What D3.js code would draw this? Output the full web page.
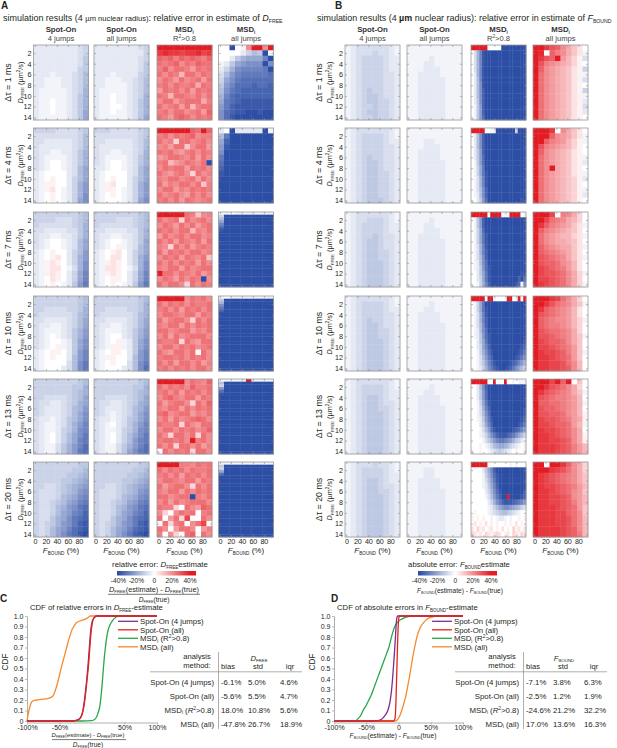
<!DOCTYPE html>
<html lang="en">
<head>
<meta charset="UTF-8">
<title>Spot-On vs MSDi: simulation errors</title>
<style>
  body { margin: 0; background: #fff; }
  svg { font-family: "Liberation Sans", Arial, sans-serif; }
</style>
<script src="https://cdn.jsdelivr.net/npm/d3@7"></script>
</head>
<body>
<script>
// ---------------- data ----------------
var dtaus = ["1", "4", "7", "10", "13", "20"];
var fTicks = [0, 20, 40, 60, 80];
var dTicks = [2, 4, 6, 8, 10, 12, 14];
var fDomain = [-2.5, 97.5];
var dDomain = [0.5, 14.5];
var barTicks = [-0.4, -0.2, 0, 0.2, 0.4];
var barLabels = ["-40%", "-20%", "0", "20%", "40%"];

// heatmap cells, one string per delta-tau; rows = D_FREE (top to bottom, space separated),
// one char per cell = F_BOUND (left to right).
// "." = 0, "A".."P" = -2.5%..-40%, "a".."p" = +2.5%..+40%
var mapsA_spot4 = [
  "BBBBBBBBCD BBBBBBBBCD BBBBBBBBCE BBBBBBBBCE BBBBBBBBDE BBBABBBCDF BBAAABBCDF BBAAABBCDF BAAAAABCDG BAAAAABCEG BAA.AABCEG BAA.AABCEG BAA.AABCEH BAAAAABCEH",
  "DDDDCCCCDE CCCCCCCCDF CCBBBBBCDF CBBBBBBCDF CBBAABBCEG CBAAAABCEG CBA..ABCEG CBA..ABCFH BA....BCFH BA.a..BDFH BAaa..BDGI BAab.ABDGI BA.a.ABDGJ BA.a.ABDHJ",
  "DDDDDDDDEF DDDDCCCDEF DCCCCCCDEG CCBBBBCCEG CBBAABBCEG CBA..ABCFH CBA..ABCFH BA.a..BDFI BA.ab.BDGI BAaba.BDGJ BAabb.ACGJ BAaba.BDHK BA.ba.BDHK BA.a.ABEIL",
  "DDDDDDDDEF DDDDDDDDEF DDCCCCDDEG DCCCCCCDFG CCBBBBCDFH CBBAABCDFH CBAAABCEGI CBA.ABCEGI CBA..ABEHJ CBA.aABEHJ BA.aa.BEIK BA.a..BFIK BA....CFJL BA...BCFJL",
  "DDDDDDDDEF DDDDDDDEEG DDDDDDDEFG DDCCCCDEFH DCCBBCDEGH DCBBBCDFGI DCBBBCDFHJ CBBABCEFHJ CBAABCEGIK CBAABDEGJK CBA.BDFHJL CBA.BDFHKL CBAACEGIKM CBAACEGILM",
  "DDDDDDDDEE DDDDDDDEEF DDDDDDEEFG DDDDDEEFGH DDCCDEFGHI DCCCDEFGIJ DCCCDFGHJK DCCDEFHIKL DCCDFGIJLM DCCDFHIKLN DCCEGHJLMN DCDEGIJLNO DCDFHIKMNO DCDFHJLMOP"
];
var mapsA_spotAll = [
  "BBBBBBBBCD BBBBBBBBBD BBBBBBBBCD BBBBBBBBCE BBBBBBBBCE BBBABBBBDE BBAAABBCDF BBAAAABCDF BAAAAABCDF BAA.AABCDG BAA.AABCEG BAA..ABCEG BAA.AABCEG BAAAAABCEH",
  "DDDCCCCCDE CCCCCCCCDE CCBBBBBCDF CBBBBBBCDF CBBAABBCDG CBAAAABCEG CBA..ABCEG BBA..ABCFH BA....BCFH BA.a..BDFH BAab..BDGI BAaa.ABDGI BA.a.ABDGI BA...ABDHJ",
  "DDDDDDDDEF DDDDCCCDEF DCCCCCCDEF CCBBBBCCEG CBBAABBCEG CBA..ABCEH CBA.aABCFH BA.ab.BDFH BA.bb.BDGI BAaba.BDGJ BAbba.ACGJ BAaba.BDHK BA.aa.BDHK BA.a.ABEIL",
  "DDDDDDDDEF DDDDDDDDEG DDCCCCDDEG DCCCCCCDFG CCBBBBCDFH CBBAABCDFH CBAAABCEGI CBA..BCEGI CBA.aABEHJ CBAaaABEHJ BA.aa.BEIK BAaa..BFIK BA.a..CFJL BA...BCFJM",
  "DDDDDDDDEF DDDDDDDEEG DDDDDDDEFG DDCCCCDEFH DCCBBCDEGH DCBBBCDFGI DCBABCDFHJ CBBABCEFHJ CBA.BCEGIK CBAABDEGJK CBA.BDFHJL CBA.BDFIKL CBAACEGIKM CBAACEHJLM",
  "DDDDDDDDEE DDDDDDDEEF DDDDDDEEFG DDDDDEEFGH DDCCDEFGHI DCCCDEFGIJ DCCCDFGHJK DCCDEFHIKL DCCDFGIJLM DCCDFHIKLN DCCEGHJLMN DCDEGIJLNO DCDFHIKMNO DCDFHJLNOP"
];
var mapsA_msdR2 = [
  "pppppppppp nonnmnnomn kjkikjkjik jijkhjikjj ikhjjigjij jhjiejjhji hjigjhijgj ijhjiijfji gjijhjgjij jiejjihjhj hjjgijjjfi jhijgjeijj ijhjjhijgk jigjkjhjij",
  "ppppppkjpk ijhjijkhii jhicjjhijh higjjdhjjg jijhgijhji ghjjihjgjh ijeghjihjP hjijjgjijh jhgijhcjhi ihjjhijgjh jgihjjhjdi hjjgihjiji jhijhgjhjh ijhjgjihij",
  "pppppjidhi jhijcjhijh hjigjhjgij jijhjjeihj gjhijhjjhi jhjgjihjgj ihcjhjgiji jgjijhjjhi hjijgjihjd jhjhjijgjh ihjjgjhijj pjjhjihjgi hjigjhjiPh jhjjhcjhji",
  "ppppphjijh jhjijhjiij ijhjgjijhj hjjihjjgji jgijjhcjhj ihjjgjhjij jjhijjgihj hjgjhijjjh jiijcjhgjj hjjhjijhij jhgjjhj.jh ijjijhjijh jhjgjjhjgi ijhjijhjjh",
  "ppppphjihk jhjijhkiij ijhjgjijhj hjkihjjgji jgijjhcjhk ihjjgjhjij jkhijjgihj hjgjhijkjh jiijcjhgjj hjjhjijhik jhcjjhjcjh ijjijhpijh jhjcjjhjgi .jhjijcjjh",
  "ppppiihjij jhjijhjiij ijhjgjijhj hjjihjjgji jgijjhcjhj ihjjgjhjij jjhijjPihj hjgjhijjjh jiic.jhgkj hc.hjij.ij j.gjcm..jh .jcij.hjm. jh.gjjh.gi i.hc.jk.jh"
];
var mapsA_msdAll = [
  "..P.ahpphp ....BDFEPA ..BEGHHHKP ABEHIJJJPJ BDGJKKKKLP CFIKLLLLLM DHJLMMMMMM EIKMMMNMMN FJLMNNNNNN GKMNNNNNNN HLMNOOOOOO ILNOOOOOOO JMNOOPPOPP JMOPPPPPPP",
  "B.PBBBBBPA FLPPPPPPPP HNPPPPPPPP IOPPPPPPPP JPPPPPPPPP LPPPPPPPPP MPPPPPPPPP NPPPPPPPPP OPPPPPPPPP PPPPPPPPPP PPPPPPPPPP PPPPPPPPPP PPPPPPPPPP PPPPPPPPPP",
  "AA.AAAAAAA DPPPPPPPPP FPPPPPPPPP HPPPPPPPPP KPPPPPPPPP MPPPPPPPPP OPPPPPPPPP PPPPPPPPPP PPPPPPPPPP PPPPPPPPPP PPPPPPPPPP PPPPPPPPPP PPPPPPPPPP PPPPPPPPPP PPPPPPPPPP PPPPPPPPPP PPPPPPPPPP PPPPPPPPPP PPPPPPPPPP PPPPPPPPPP PPPPPPPPPP PPPPPPPPPP PPPPPPPPPP PPPPPPPPPP PPPPPPPPPP PPPPPPPPPP PPPPPPPPPP PPPPPPPPPP",
  "A.AAAAAAAA EPPPPPPPPP GPPPPPPPPP JPPPPPPPPP LPPPPPPPPP NPPPPPPPPP PPPPPPPPPP PPPPPPPPPP PPPPPPPPPP PPPPPPPPPP PPPPPPPPPP PPPPPPPPPP PPPPPPPPPP PPPPPPPPPP PPPPPPPPPP PPPPPPPPPP PPPPPPPPPP PPPPPPPPPP PPPPPPPPPP PPPPPPPPPP PPPPPPPPPP PPPPPPPPPP PPPPPPPPPP PPPPPPPPPP PPPPPPPPPP PPPPPPPPPP PPPPPPPPPP PPPPPPPPPP",
  "AAAAApAAAA FPPPPPPPPP DPPPPPPPPP IPPPPPPPPP MPPPPPPPPP OPPPPPPPPP PPPPPPPPPP PPPPPPPPPP PPPPPPPPPP PPPPPPPPPP PPPPPPPPPP PPPPPPPPPP PPPPPPPPPP PPPPPPPPPP PPPPPPPPPP PPPPPPPPPP PPPPPPPPPP PPPPPPPPPP PPPPPPPPPP PPPPPPPPPP PPPPPPPPPP PPPPPPPPPP PPPPPPPPPP PPPPPPPPPP PPPPPPPPPP PPPPPPPPPP PPPPPPPPPP PPPPPPPPPP",
  "AAAAAAAAAA EPPPPPPPPP DPPPPPPPPP HPPPPPPPPP MPPPPPPPPP PPPPPPPPPP PPPPPPPPPP PPPPPPPPPP PPPPPPPPPP PPPPPPPPPP PPPPPPPPPP PPPPPPPPPP PPPPPPPPPP PPPPPPPPPP PPPPPPPPPP PPPPPPPPPP PPPPPPPPPP PPPPPPPPPP PPPPPPPPPP PPPPPPPPPP PPPPPPPPPP PPPPPPPPPP PPPPPPPPPP PPPPPPPPPP PPPPPPPPPP PPPPPPPPPP PPPPPPPPPP PPPPPPPPPP"
];
var mapsB_spot4 = [
  "ABCCCCCCBA ABCCCDCCBA ABCDDDDCBB ABCDDDDCBB ABCDDDDCBB ABCDDDDCCB ABCDDDDCCB ABCDDDDCCB ABCDEDDCCB ABCDEEDCCB ABCDEEDDCB ABCDDEDDCB ABCDEEDDCB ABCDDEDDCB",
  "ABCCCCCCBA ABCDDDDCBA ABCDDDDCBB ABCDDDDCCB ABCDDDDCCB ABCDEDDCCB ABCDEEDCCB ABCDEEDCCB ABCDEEDDCB ABCDEEDDCB ABCDEEDDCB ABCDEEDDCB ABCDEEDDCB ABCDEEEDCB",
  "ABCCCCCCBA ABCCDDDCBA ABCDDDDCBB ABCDDDDCBB ABCDDEDCCB ABCDEEDCCB ABCDEEDCCB ABCDEEDDCB ABCDEEDDCB ABCDEEEDCB ABCDEEEDCB ABCDEEEDCB ABCDEEEDCB ABCDEEEDCB",
  "ABCCCCCCBA ABCDDDDCBA ABCDDDDCBB ABCDDDDCCB ABCDEDDCCB ABCDEEDCCB ABCDEEDDCB ABCDEEDDCB ABCDEEEDCB ABCDEEEDCB ABCDEEEDCB ABCDEEEDCB ABCDEEEDCB ABCDEEEDCB",
  "ABCCCCCCBA ABCDDDDCBA ABCDDDDCBB ABCDEEDCBB ABCDEEDCCB ABCDEEDDCB ABCDEEEDCB ABCDEEEDCB ABCDEEEDCB ABCDEEEDCB ABCDEEEDCB ABCDEEEDCB ABCDEEEDCB ABCDEEEDCB",
  "ABCCCDCCBA ABCDDDDCBA ABCDDDDCBB ABCDEEDCBB ABCDEEDCCB ABCDEEDDCB ABCDEEEDCB ABCDEEEDCB ABCDEEEDCB ABCDEEEDCB ABCDEEEDCB ABCDEEEDCB ABCDEEEDCB ABCDEEEDCB"
];
var mapsB_spotAll = [
  "AAAAAAAAAA AAAAAAAAAA AAAABAAAAA AAABBAAAAA AAABBBAAAA AABBBBAAAA AABBBBBAAA AABBBBBAAA AABBBBBAAA AABBBBBAAA AABBBBBAAA AABBBBBAAA AABBBBBAAA AABBBBBAAA",
  "AAAAAAAAAA AAAAAAAAAA AAABBAAAAA AAABBBAAAA AABBBBAAAA AABBBBAAAA AABBBBBAAA AABBBBBAAA AABBBBBAAA AABBBBBAAA AABBBBBAAA AABBBBBAAA AABBBBBAAA AABBBBBAAA",
  "AAAAAAAAAA AAAABAAAAA AAABBAAAAA AAABBBAAAA AABBBBAAAA AABBBBBAAA AABBBBBAAA AABBBBBAAA AABBBBBAAA AABBBBBAAA AABBBBBAAA AABBBBBAAA AABBBBBAAA AABBBBBAAA",
  "AAAAAAAAAA AAAABAAAAA AAABBAAAAA AABBBBAAAA AABBBBAAAA AABBBBBAAA AABBBBBAAA AABBBBBAAA AABBBBBAAA AABBBBBAAA AABBBBBAAA AABBBBBAAA AABBBBBAAA AABBBBBAAA",
  "AAAAAAAAAA AAAABAAAAA AAABBAAAAA AABBBBAAAA AABBBBAAAA AABBBBBAAA AABBBBBAAA AABBBBBAAA AABBBBBAAA AABBBBBAAA AABBBBBAAA AABBBBBAAA AABBBBBAAA AABBBBBAAA",
  "AAAAAAAAAA AAABBAAAAA AAABBAAAAA AABBBBAAAA AABBBBAAAA AABBBBBAAA AABBBBBAAA AABBBBBAAA AABBBBBAAA AABBBBBAAA AABBBBBAAA AABBBBBAAA AABBBBBAAA AABBBBBAAA"
];
var mapsB_msdR2 = [
  "pppppp.....PPPPPPPPP .CGKOPPPPPPPPPPPPPPP .CGKOPPPPPPPPPPPPPPP .CGKOPPPPPPPPPPPPPPP .CGKOPPPPPPPPPPPPPPP .BGKOPPPPPPPPPPPPPPP .BFKOPPPPPPPPPPPPPPP .BFJOPPPPPPPPPPPPPPP .BFJNPPPPPPPPPPPPPPP .BFJNPPPPPPPPPPPPPPP .BEJNPPPPPPPPPPPPPPP .AEINPPPPPPPPPPPPPPP .AEINPPPPPPPPPPPPPPP .AEIMPPPPPPPPPPPPPPP",
  "ppppp..AAPPPPPPPDPPP .BFJNPPPPPPPPPPPPPPP .BFJNPPPPPPPPPPPPPPP .BFJNPPPPPPPPPPPPPPP .BEINPPPPPPPPPPPPPPP .BEIMPPPPPPPPPPPPPPP .AEIMPPPPPPPPPPPPPPP .ADHLPPPPPPPPPPPPPPP .ADHLOPPPPPPPPPPPPPP .ACGKOPPPPPPPPPPPPPP .ACGKOPPPPPPPPPPPPPP .ACFJNPPPPPPPPPPPPPP .ABFJNPPPPPPPPPPPPPP ..BEIMPPPPPPPPPPPPOP",
  "pppppp.ppppAAApppp.A .AEINPPPPPPPPPPPPPPP .AEINPPPPPPPPPPPPPPP .ADHMPPPPPPPPPPPPPPP .ADHLOPPPPPPPPPPPPPP .ADHLOPPPPPPPPPPPPPP .ACGKOPPPPPPPPPPPPPP .ACGKNPPPPPPPPPPPPPP .ACFJNPPPPPPPPPPPPPP .ABFJMPPPPPPPPPPPPPP .ABEIMOPPPPPPPPPPPPP ..BEHLOPPPPPPPPPPPOP ..BDHLOPPPPPPPPPPNPM ..ADGKNPPPPPPPPPOMAJ",
  "ppppp.ppA....pp.Ap.p .ADHLPPPPPPPPPPPPPPP .ADHLOPPPPPPPPPPPPPP .ACGKOPPPPPPPPPPPPPP .ACGKNPPPPPPPPPPPPPP .ACFJNPPPPPPPPPPPPPP .ABFJMPPPPPPPPPPPPPP .ABEIMOPPPPPPPPPPPPP ..BEHLOPPPPPPPPPPPPO ..BDHKNPPPPPPPPPPPON ..ADGJMOPPPPPPPPPONL ..ACFILNPPPPPPPPONLJ ..ACEHKMOPPPPPONMKIG ..ABDGJLNOPPPONLJHFD",
  "pppppp..p...p..A.AAA ..BFJNPPPPPPPPPPPPPP ..BEIMPPPPPPPPPPPPPP ..BEIMPPPPPPPPPPPPPP ..ADHLOPPPPPPPPPPPPP ..ACGKNPPPPPPPPPPPPP ..ACFJMPPPPPPPPPPPPO ..ABEILOPPPPPPPPPPON ...BDHKNPPPPPPPPPONL ...ACFIMOPPPPPPONMKI ...ABDGJLNOOONMLJHFD ....ACEGIKLLKJIGEDBA ...a.ABDFGHHGFDCBA.a a..a..ABCDEDCBA.a..a",
  "pppppp........a.A... ....BEHKNPPPPPPPPPPP ....ADGJMOPPPPPPPPPP ....ACFILOPPPPPPPPPP ....ABEHKNPPPPPPPPPP .....BDGJMOPPPPPPPPO .....ACFILNPPpPPPPON ......BDGJLNOOONMLKI ......ABDFHIJJIHGFDC .a....ABCDEFFEDCBA.. a.a.a..A.ABBA.A..a.a .b.a.b.a.a..a.a.b.a. b.cab.ab.a.b.a.cab.b cbab.cbabcb.ab.cbacb"
];
var mapsB_msdAll = [
  "ppnlkhfdb. po.kihfdbA pnlkpgecaC plihgfeca. pkhgfedbaD pjhgfedbaA pjhgfedbAC pjhgfedba. pjhgfedbaD pjhgfedbaA pjhgfedbaB pjhgfedbaC pjhgfedbaB pjhgfedba.",
  "pppn.hfdb. pppkhgfdbA ppkihgecaA plihgfeca. pkhgfedba. pjhgfedbaA pjhgfedbaB pjhpfedba. pjhgfedbaA pjhgfedcaB pjhgfedca. pjhgfedcaA pjhgfedcaB pjhgfedca.",
  "pppm.ihfc. ppmjihfec. pnkihgfdbA pkihgfedb. pjhgfeecbA pjhgffedb. pkihgffdbA pkjihgfdb. plkjihfdbA plkkjhgeb. pmlkjigeb. pmllkjhfcA pmmlkjhfc. pnmlkjhfcA",
  "pppnmjhfc. ppnljihfdA pnkjihgeb. plkjihgeb. pkjihhgecA pkjiihgec. plkjjihfc. pllkjihfdA pmlkkjhfd. pmmlkjigd. pnmmlkigdA pnnmlkjgd. pnnmmljhe. pnnmmlkhe.",
  "pppmpkp.d. ppnlkjhfc. pnlkjihfdA plkjiihge. pkkjjihgeA plkkjihge. pllkkjhgea pmllkjigfa pmmlkkjgeA pnmmlkjhf. pnnmlkjhfa pnnmmlkhfa pnnnmlkige pnnnmlkige",
  "pp.ppnkhfc pppnmljhfc pnmlkjihfd pnmlkjihfd pnmmlkjige pnnmlkjhgd pnnmmlkhge pnnmmlkige pnnnmlkjgd pnnnmmkjhd pnnnmmljhe pnnnmmljhe pnnnnmlkhe pnnnnmlkie"
];

// CDF curves: [error in %, cumulative fraction]
var cdfTicks = [0, 0.1, 0.2, 0.3, 0.4, 0.5, 0.6, 0.7, 0.8, 0.9, 1];
var cdfC_spot4 = [[-100,0],[-30,0],[-22,0.01],[-17,0.04],[-14,0.1],[-12,0.18],[-10,0.28],[-8,0.4],[-6.5,0.5],[-5,0.62],[-3.5,0.75],[-2,0.86],[0,0.94],[3,0.98],[7,1],[100,1]];
var cdfC_spotAll = [[-100,0],[-30,0],[-21,0.01],[-16,0.05],[-13,0.12],[-11,0.2],[-9,0.31],[-7,0.43],[-5.5,0.52],[-4,0.64],[-2.5,0.77],[-1,0.87],[1,0.95],[4,0.99],[8,1],[100,1]];
var cdfC_msdR2 = [[-100,0],[-15,0],[0,0.004],[5,0.02],[9,0.07],[12,0.14],[14,0.24],[16,0.38],[17.5,0.5],[19,0.61],[21,0.72],[23,0.81],[25,0.87],[28,0.92],[32,0.96],[37,0.99],[42,1],[100,1]];
var cdfC_msdAll = [[-100,0],[-99,0.04],[-97,0.1],[-95,0.15],[-93,0.18],[-90,0.195],[-85,0.2],[-78,0.205],[-72,0.21],[-67,0.215],[-63,0.225],[-60,0.24],[-57,0.28],[-54,0.34],[-51,0.41],[-48,0.49],[-45,0.56],[-42,0.63],[-39,0.7],[-36,0.77],[-33,0.83],[-30,0.88],[-27,0.91],[-24,0.935],[-20,0.95],[-15,0.96],[-10,0.97],[-6,0.985],[-3,1],[100,1]];
var cdfD_spot4 = [[-100,0],[-35,0],[-28,0.01],[-24,0.03],[-20,0.06],[-16,0.11],[-13,0.19],[-11,0.28],[-9.5,0.38],[-8,0.5],[-6.5,0.63],[-5,0.77],[-4,0.88],[-3,0.96],[-1.5,1],[100,1]];
var cdfD_spotAll = [[-100,0],[-8,0],[-5.5,0.02],[-4.5,0.1],[-3.5,0.28],[-2.5,0.5],[-1.5,0.72],[-0.5,0.9],[0.5,0.98],[2,1],[100,1]];
var cdfD_msdR2 = [[-100,0],[-68,0],[-63,0.02],[-58,0.06],[-55,0.1],[-50,0.15],[-46,0.2],[-42,0.25],[-39,0.3],[-36,0.35],[-33,0.4],[-30,0.45],[-27,0.5],[-24,0.55],[-21,0.6],[-18,0.65],[-15,0.7],[-12.5,0.76],[-10,0.82],[-7,0.88],[-4,0.92],[0,0.95],[5,0.97],[12,0.99],[22,1],[100,1]];
var cdfD_msdAll = [[-100,0],[-5,0],[-2,0.01],[2,0.05],[5,0.1],[8,0.16],[11,0.23],[14,0.32],[17,0.42],[20,0.53],[23,0.64],[26,0.73],[29,0.81],[33,0.88],[38,0.93],[44,0.97],[52,0.99],[60,1],[100,1]];

var seriesColors = ["#7e2f8e", "#e2231a", "#25a84a", "#f58a2f"];

// table values: bias, std, iqr
var tableC = [["-6.1%", "5.0%", "4.6%"], ["-5.6%", "5.5%", "4.7%"], ["18.0%", "10.8%", "5.6%"], ["-47.8%", "26.7%", "18.9%"]];
var tableD = [["-7.1%", "3.8%", "6.3%"], ["-2.5%", "1.2%", "1.9%"], ["-24.6%", "21.2%", "32.2%"], ["17.0%", "13.6%", "16.3%"]];

// ---------------- layout ----------------
var W = 617, H = 748;
var HW = 55, HH = 75;
var rowTop = [45, 128, 212, 296, 379, 462];
var colXA = [33.5, 94, 157, 218.5];
var colXB = [345, 407, 471, 533];
var INK = "#231f20";

var color = d3.scaleLinear().domain([-0.4, 0, 0.4]).range(["#2d4ea5", "#ffffff", "#e31b23"]).clamp(true);

function level(ch) {
  if (ch === ".") return 0;
  var c = ch.charCodeAt(0);
  return c >= 97 ? (c - 96) * 0.025 : -(c - 64) * 0.025;
}

var svg = d3.select("body").append("svg").attr("width", W).attr("height", H);
var defs = svg.append("defs");

// text with italic / sub / superscript parts; opts.fit squeezes it to a width
function rich(x, y, parts, size, opts) {
  opts = opts || {};
  var t = build(size);
  if (opts.fit) {
    var w = t.node().getComputedTextLength();
    if (w > 0) { t.remove(); t = build(size * opts.fit / w); }
  }
  return t;

  function build(sz) {
    var t = svg.append("text").attr("font-size", sz)
      .attr("text-anchor", opts.anchor || "start").attr("fill", opts.fill || INK);
    if (opts.rotate) t.attr("transform", "translate(" + x + "," + y + ") rotate(-90)");
    else t.attr("x", x).attr("y", y);
    var shift = 0;
    parts.forEach(function(p) {
      var k = p[1] || "";
      var ts = t.append("tspan").text(p[0]);
      var target = 0, fs = sz;
      if (k.indexOf("s") >= 0) { fs = sz * 0.58; target = sz * 0.22; }
      if (k.indexOf("u") >= 0) { fs = sz * 0.62; target = -sz * 0.36; }
      if (k.indexOf("m") >= 0) fs = sz * 0.85;
      if (fs !== sz) ts.attr("font-size", fs);
      if (k.indexOf("i") >= 0) ts.attr("font-style", "italic");
      if (k.indexOf("b") >= 0) ts.attr("font-weight", "bold");
      if (target !== shift) ts.attr("dy", target - shift);
      shift = target;
    });
    return t;
  }
}

function styleAxis(g, size) {
  g.attr("font-family", null).attr("font-size", size);
  g.selectAll(".tick line").attr("stroke", "#8c8c8c").attr("stroke-width", 0.6);
  g.selectAll(".tick text").attr("fill", INK);
}

function drawHeatmap(rows, x0, y0, showY, showX) {
  var g = svg.append("g");
  var yb = d3.scaleBand().domain(d3.range(rows.length)).range([y0, y0 + HH]);
  rows.forEach(function(r, i) {
    var xb = d3.scaleBand().domain(d3.range(r.length)).range([x0, x0 + HW]);
    g.append("g").selectAll("rect")
      .data(r.split(""))
      .join("rect")
      .attr("x", function(d, j) { return xb(j); })
      .attr("y", yb(i))
      .attr("width", xb.bandwidth() + 0.35)
      .attr("height", yb.bandwidth() + 0.35)
      .attr("fill", function(d) { return color(level(d)); });
  });
  g.append("rect").attr("x", x0).attr("y", y0).attr("width", HW).attr("height", HH)
    .attr("fill", "none").attr("stroke", "#9a9a9a").attr("stroke-width", 0.8);

  var fx = d3.scaleLinear().domain(fDomain).range([x0, x0 + HW]);
  var fy = d3.scaleLinear().domain(dDomain).range([y0, y0 + HH]);

  var ax = g.append("g").attr("transform", "translate(0," + (y0 + HH) + ")")
    .call(d3.axisBottom(fx).tickValues(fTicks).tickSize(-2).tickSizeOuter(0).tickPadding(1.5)
      .tickFormat(showX ? d3.format("d") : ""));
  ax.select(".domain").remove();
  styleAxis(ax, 7.2);
  var at = g.append("g").attr("transform", "translate(0," + y0 + ")")
    .call(d3.axisTop(fx).tickValues(fTicks).tickSize(-2).tickSizeOuter(0).tickFormat(""));
  at.select(".domain").remove();
  styleAxis(at, 7);
  var al = g.append("g").attr("transform", "translate(" + x0 + ",0)")
    .call(d3.axisLeft(fy).tickValues(dTicks).tickSize(-2).tickSizeOuter(0).tickPadding(2)
      .tickFormat(showY ? d3.format("d") : ""));
  al.select(".domain").remove();
  styleAxis(al, 7.2);
  var ar = g.append("g").attr("transform", "translate(" + (x0 + HW) + ",0)")
    .call(d3.axisRight(fy).tickValues(dTicks).tickSize(-2).tickSizeOuter(0).tickFormat(""));
  ar.select(".domain").remove();
  styleAxis(ar, 7);
}

function heatPanel(maps, colX, dtX, dlX) {
  maps.forEach(function(set, ci) {
    set.forEach(function(s, ri) {
      drawHeatmap(s.split(" "), colX[ci], rowTop[ri], ci === 0, ri === rowTop.length - 1);
    });
  });
  rowTop.forEach(function(t, ri) {
    var yc = t + HH / 2;
    rich(dtX, yc, [["\u0394\u03c4 = " + dtaus[ri] + " ms"]], 8.8, { anchor: "middle", rotate: true });
    rich(dlX, yc, [["D", "i"], ["FREE", "s"], [" (\u00b5m", ""], ["2", "u"], ["/s)", ""]], 7.3, { anchor: "middle", rotate: true });
  });
  colX.forEach(function(x) {
    rich(x + HW / 2, 553, [["F", "i"], ["BOUND", "s"], [" (%)", ""]], 8, { anchor: "middle" });
  });
}

function headers(colX) {
  var line1 = [[["Spot-On", "b"]], [["Spot-On", "b"]], [["MSD", "b"], ["i", "bs"]], [["MSD", "b"], ["i", "bs"]]];
  var line2 = [[["4 jumps"]], [["all jumps"]], [["R"], ["2", "u"], [">0.8"]], [["all jumps"]]];
  colX.forEach(function(x, i) {
    rich(x + HW / 2, 32, line1[i], 7.8, { anchor: "middle", fill: "#333" });
    rich(x + HW / 2, 41, line2[i], 7.6, { anchor: "middle", fill: "#444" });
  });
}

function colorbar(x0, id, titleParts, titleX, titleW) {
  var bw = 79, by = 571, bh = 4.5;
  var bx = d3.scaleLinear().domain([-0.4, 0.4]).range([x0 + 1.5, x0 + 73]);
  var grad = defs.append("linearGradient").attr("id", id);
  barTicks.forEach(function(v) {
    grad.append("stop").attr("offset", (bx(v) - x0) / bw).attr("stop-color", color(v));
  });
  grad.append("stop").attr("offset", 1).attr("stop-color", color(0.4));
  svg.append("rect").attr("x", x0).attr("y", by).attr("width", bw).attr("height", bh)
    .attr("fill", "url(#" + id + ")");
  svg.append("g").selectAll("text").data(barTicks).join("text")
    .attr("x", function(d) { return bx(d); }).attr("y", 583)
    .attr("text-anchor", "middle").attr("font-size", 6.6).attr("fill", INK)
    .text(function(d, i) { return barLabels[i]; });
  rich(titleX, 567, titleParts, 7.5, { anchor: "middle", fit: titleW });
}

// ---------------- panel A / B ----------------
svg.append("text").attr("x", 1).attr("y", 9).attr("font-size", 10).attr("font-weight", "bold").attr("fill", INK).text("A");
svg.append("text").attr("x", 335).attr("y", 9).attr("font-size", 10).attr("font-weight", "bold").attr("fill", INK).text("B");

rich(3, 21, [["simulation results (4 "], ["\u00b5m nuclear radius)", "m"], [": relative error in estimate of "], ["D", "i"], ["FREE", "s"]], 9, { fit: 280 });
rich(317, 21, [["simulation results (4 "], ["\u00b5m", "b"], [" nuclear radius): relative error in estimate of "], ["F", "i"], ["BOUND", "s"]], 9, { fit: 295 });

headers(colXA);
headers(colXB);
heatPanel([mapsA_spot4, mapsA_spotAll, mapsA_msdR2, mapsA_msdAll], colXA, 11, 22.5);
heatPanel([mapsB_spot4, mapsB_spotAll, mapsB_msdR2, mapsB_msdAll], colXB, 322, 332);

colorbar(117, "cbA", [["relative error: "], ["D", "i"], ["FREE", "s"], ["estimate"]], 160, 96);
colorbar(418, "cbB", [["absolute error: "], ["F", "i"], ["BOUND", "s"], ["estimate"]], 459, 102);

rich(154, 591.5, [["D", "i"], ["FREE", "s"], ["(estimate) - "], ["D", "i"], ["FREE", "s"], ["(true)"]], 7, { anchor: "middle", fit: 90 });
svg.append("line").attr("x1", 108).attr("x2", 200).attr("y1", 594.3).attr("y2", 594.3).attr("stroke", INK).attr("stroke-width", 0.6);
rich(154, 601.5, [["D", "i"], ["FREE", "s"], ["(true)"]], 6.6, { anchor: "middle" });
rich(460, 593, [["F", "i"], ["BOUND", "s"], ["(estimate) - "], ["F", "i"], ["BOUND", "s"], ["(true)"]], 7, { anchor: "middle", fit: 86 });

// ---------------- panel C / D ----------------
var legendNames = [
  [["Spot-On (4 jumps)"]],
  [["Spot-On (all)"]],
  [["MSD"], ["i", "s"], [" (R"], ["2", "u"], [">0.8)"]],
  [["MSD"], ["i", "s"], [" (all)"]]
];
var tableNames = [
  [["Spot-On (4 jumps)"]],
  [["Spot-On (all)"]],
  [["MSD"], ["i", "s"], [" ("], ["R", "i"], ["2", "u"], [">0.8)"]],
  [["MSD"], ["i", "s"], [" (all)"]]
];

function cdfPanel(o) {
  var x = d3.scaleLinear().domain([-100, 100]).range(o.xr);
  var y = d3.scaleLinear().domain([0, 1]).range([721, 616]);
  var g = svg.append("g");

  var ay = g.append("g").attr("transform", "translate(" + o.xr[0] + ",0)")
    .call(d3.axisLeft(y).tickValues(cdfTicks).tickSize(2).tickSizeOuter(0).tickPadding(1.5)
      .tickFormat(function(v) { return v === 0 ? "0" : d3.format(".1f")(v); }));
  ay.select(".domain").attr("stroke", "#8c8c8c").attr("stroke-width", 0.7);
  styleAxis(ay, 7);
  var axb = g.append("g").attr("transform", "translate(0,722.5)")
    .call(d3.axisBottom(x).tickValues(o.xTicks).tickSize(2).tickSizeOuter(0).tickPadding(1)
      .tickFormat(function(v) { return v === 0 ? "0" : v + "%"; }));
  axb.select(".domain").attr("stroke", "#8c8c8c").attr("stroke-width", 0.7);
  styleAxis(axb, 7);

  var line = d3.line().x(function(d) { return x(d[0]); }).y(function(d) { return y(d[1]); })
    .curve(d3.curveMonotoneX);
  o.order.forEach(function(si) {
    g.append("path").attr("d", line(o.series[si])).attr("fill", "none")
      .attr("stroke", seriesColors[si]).attr("stroke-width", 1.3);
  });

  // legend
  var ly = [624, 632.5, 641, 649.5];
  ly.forEach(function(yy, i) {
    g.append("line").attr("x1", o.lx).attr("x2", o.lx + 20).attr("y1", yy - 2.7).attr("y2", yy - 2.7)
      .attr("stroke", seriesColors[i]).attr("stroke-width", 1.3);
    rich(o.lx + 22, yy, legendNames[i], 7.8);
  });

  rich(o.titleX, 610, o.title, 7.5, { fit: o.titleW });
  rich(o.xr[0] - 19, 662, [["CDF"]], 8.2, { anchor: "middle", rotate: true });

  // table
  var tx = o.tx;
  rich(tx.method, 659, [["analysis"]], 7.6, { anchor: "middle" });
  rich(tx.method, 668, [["method:"]], 7.6, { anchor: "middle" });
  rich(tx.std + 11, 660.5, o.head, 7.6, { anchor: "middle" });
  rich(tx.bias + 7, 669, [["bias"]], 7.6, { anchor: "middle" });
  rich(tx.std + 10, 669, [["std"]], 7.6, { anchor: "middle" });
  rich(tx.iqr + 10, 669, [["iqr"]], 7.6, { anchor: "middle" });
  g.append("line").attr("x1", tx.h0).attr("x2", tx.h1).attr("y1", 671.8).attr("y2", 671.8)
    .attr("stroke", "#8c8c8c").attr("stroke-width", 0.7);
  g.append("line").attr("x1", tx.v).attr("x2", tx.v).attr("y1", 652).attr("y2", 729)
    .attr("stroke", "#8c8c8c").attr("stroke-width", 0.7);
  var rowsY = [684.5, 698.5, 712.5, 726.5];
  o.table.forEach(function(r, i) {
    rich(tx.v - 4.5, rowsY[i], tableNames[i], 7.8, { anchor: "end" });
    rich(tx.bias, rowsY[i], [[r[0]]], 7.8);
    rich(tx.std, rowsY[i], [[r[1]]], 7.8);
    rich(tx.iqr, rowsY[i], [[r[2]]], 7.8);
  });
}

svg.append("text").attr("x", 0).attr("y", 602).attr("font-size", 10).attr("font-weight", "bold").attr("fill", INK).text("C");
svg.append("text").attr("x", 331).attr("y", 602).attr("font-size", 10).attr("font-weight", "bold").attr("fill", INK).text("D");

cdfPanel({
  xr: [27, 157], xTicks: [-100, -50, 50, 100],
  series: [cdfC_spot4, cdfC_spotAll, cdfC_msdR2, cdfC_msdAll], order: [3, 2, 0, 1],
  lx: 118, titleX: 30, titleW: 133,
  title: [["CDF of relative errors in "], ["D", "i"], ["FREE", "s"], ["-estimate"]],
  head: [["D", "i"], ["FREE", "s"]],
  table: tableC,
  tx: { method: 197, bias: 221, std: 248, iqr: 280, h0: 150, h1: 302, v: 218.5 }
});
cdfPanel({
  xr: [334, 463], xTicks: [-100, -50, 0, 50, 100],
  series: [cdfD_spot4, cdfD_spotAll, cdfD_msdR2, cdfD_msdAll], order: [3, 2, 0, 1],
  lx: 432, titleX: 337, titleW: 141,
  title: [["CDF of absolute errors in "], ["F", "i"], ["BOUND", "s"], ["-estimate"]],
  head: [["F", "i"], ["BOUND", "s"]],
  table: tableD,
  tx: { method: 502, bias: 526, std: 553, iqr: 584, h0: 455, h1: 607, v: 523.5 }
});

rich(88, 737, [["D", "i"], ["FREE", "s"], ["(estimate) - "], ["D", "i"], ["FREE", "s"], ["(true)"]], 7, { anchor: "middle", fit: 73 });
svg.append("line").attr("x1", 52).attr("x2", 126).attr("y1", 739.6).attr("y2", 739.6).attr("stroke", INK).attr("stroke-width", 0.6);
rich(88, 746.5, [["D", "i"], ["FREE", "s"], ["(true)"]], 6.5, { anchor: "middle" });
rich(393, 738, [["F", "i"], ["BOUND", "s"], ["(estimate) - "], ["F", "i"], ["BOUND", "s"], ["(true)"]], 7, { anchor: "middle", fit: 87 });
</script>
</body>
</html>
